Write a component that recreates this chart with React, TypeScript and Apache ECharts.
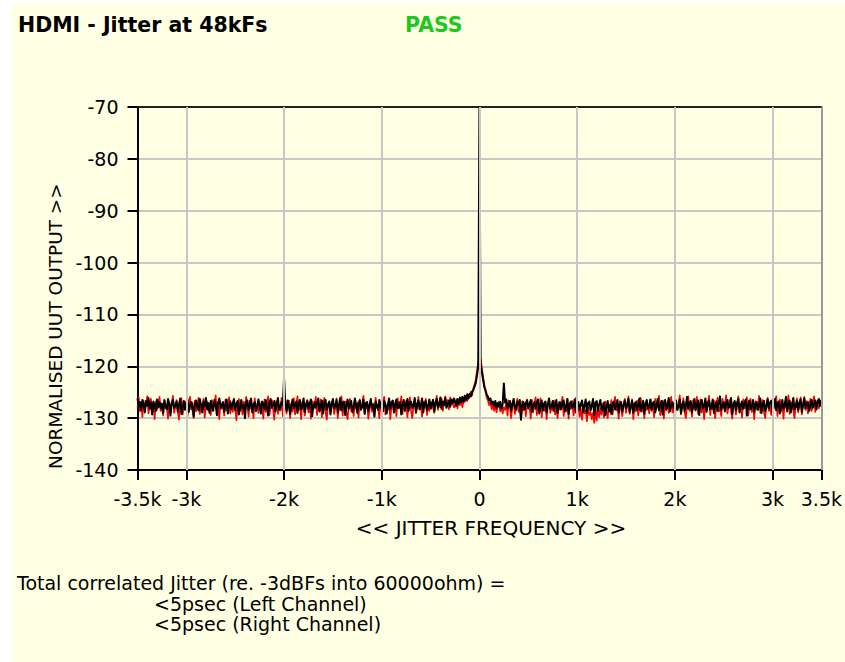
import React, { useEffect, useRef } from "react";
import * as echarts from "echarts";

// Jitter spectrum: one value every F_STEP Hz from F_START, in dB (normalised UUT output)
const F_START = -3500;
const F_STEP = 12.5;

// Left channel (drawn in black, on top) — 561 bins, -3500 Hz .. +3500 Hz
const LEFT_DB = [
  -126.2, -127.8, -126.9, -128.4, -126.5, -127.3, -128.9, -126.7, -127.6, -126.1, -128.2, -127.0, -129.3, -126.8, -127.5, -128.6, -126.4, -127.9, -126.9, -128.1,
  -127.2, -129.0, -126.6, -127.7, -128.3, -126.3, -127.4, -129.5, -127.1, -126.5, -128.0, -127.6, -126.8, -128.7, -127.3, -126.2, -129.2, -127.8, -126.7, -128.4,
  -127.0, -126.4, -128.8, -127.5, -126.9, -128.1, -129.7, -127.2, -126.6, -127.9, -128.5, -126.3, -127.4, -128.9, -126.8, -127.7, -126.1, -128.3, -127.1, -129.0,
  -126.7, -127.8, -128.6, -126.5, -127.3, -129.4, -127.0, -126.2, -128.0, -127.6, -126.9, -128.8, -127.4, -126.4, -129.1, -127.7, -126.8, -128.2, -127.1, -126.3,
  -128.5, -127.2, -126.7, -129.3, -127.9, -126.5, -128.1, -127.4, -130.0, -127.0, -126.6, -128.4, -127.5, -126.2, -128.9, -127.3, -126.9, -128.6, -127.8, -126.4,
  -127.6, -129.1, -126.8, -127.2, -128.3, -126.5, -127.9, -129.5, -127.1, -126.3, -128.0, -127.5, -126.7, -128.7, -127.3, -126.1, -128.4, -127.8, -126.9, -127.4,
  -122.2,
  -127.0, -128.6, -126.6, -127.7, -129.2, -127.3, -126.4, -128.1, -127.5, -126.8, -129.0, -127.2, -126.5, -128.3, -127.9, -126.2, -128.8, -127.4, -126.7,
  -128.2, -127.1, -126.4, -129.6, -127.6, -126.9, -128.0, -127.3, -126.2, -128.7, -127.8, -126.6, -129.1, -127.0, -126.5, -128.4, -127.5, -126.8, -129.3, -127.2,
  -126.3, -128.1, -127.7, -126.5, -128.9, -127.4, -126.1, -128.5, -127.0, -126.8, -129.4, -127.6, -126.4, -128.2, -127.3, -126.7, -128.8, -127.9, -126.2, -127.5,
  -129.0, -127.2, -126.6, -128.3, -127.8, -126.4, -129.2, -127.1, -126.9, -128.6, -127.5, -126.3, -128.0, -127.4, -129.7, -126.8, -127.6, -128.4, -126.5, -127.9,
  -127.1, -128.7, -126.7, -127.3, -129.1, -127.6, -126.2, -128.2, -127.0, -126.6, -128.9, -127.5, -126.4, -128.1, -127.8, -126.9, -129.3, -127.2, -126.5, -128.5,
  -127.4, -126.3, -128.6, -127.0, -126.8, -128.0, -127.7, -126.1, -128.8, -127.3, -126.6, -128.3, -127.5, -126.2, -128.9, -127.1, -126.7, -128.4, -127.6, -126.4,
  -128.1, -127.2, -126.5, -128.7, -127.0, -126.3, -127.9, -127.4, -126.0, -128.2, -126.8, -127.5, -126.1, -128.0, -127.3, -126.6, -127.8, -126.4, -127.1, -126.2,
  -126.9, -127.6, -126.3, -127.2, -126.0, -127.0, -125.9, -126.8, -125.7, -126.5, -125.4, -126.2, -125.3, -125.8, -124.9, -124.6, -123.9, -123.2, -121.8, -120.0,
  -70.0,
  -119.6, -121.2, -122.6, -124.0, -124.6, -125.5, -125.9, -126.6, -126.2, -127.3, -126.8, -127.6, -126.7, -128.0, -127.1, -127.8, -126.9, -128.2, -127.3, -123.3,
  -127.0, -126.4, -128.1, -127.5, -126.7, -128.6, -127.2, -126.3, -127.9, -128.4, -126.8, -127.4, -126.5, -130.2, -127.6, -126.9, -128.3, -127.1, -126.6, -128.0,
  -127.3, -126.5, -128.8, -127.6, -126.9, -128.2, -127.0, -126.4, -129.1, -127.7, -126.6, -128.5, -127.2, -126.8, -128.9, -127.4, -126.2, -128.1, -127.8, -126.7,
  -128.6, -127.3, -126.5, -129.0, -127.5, -126.9, -128.3, -127.1, -126.6, -128.7, -127.8, -126.3, -129.2, -127.4, -126.8, -128.0, -127.6, -126.4, -128.9, -127.2,
  -126.9, -128.4, -127.3, -126.6, -128.8, -127.5, -126.4, -129.0, -127.1, -126.8, -128.5, -127.6, -126.3, -129.4, -127.0, -126.7, -128.6, -127.4, -126.5, -128.2,
  -128.5, -127.0, -129.4, -127.8, -126.7, -128.6, -127.4, -129.2, -127.1, -126.8, -128.3, -127.6, -126.5, -128.9, -127.3, -126.9, -128.7, -127.5, -126.6, -128.1,
  -127.4, -126.3, -128.8, -127.7, -126.6, -129.0, -127.2, -126.9, -128.4, -127.5, -126.2, -128.6, -127.9, -126.7, -129.2, -127.3, -126.5, -128.1, -127.8, -126.4,
  -128.3, -127.1, -126.8, -128.9, -127.6, -126.3, -128.5, -127.4, -126.7, -129.3, -127.0, -126.5, -128.2, -127.7, -126.1, -128.7, -127.5, -126.9, -128.0, -127.2,
  -126.6, -128.4, -127.8, -126.4, -129.1, -127.3, -126.8, -128.6, -127.5, -125.9, -128.2, -127.1, -126.7, -128.9, -127.6, -126.3, -128.5, -127.4, -126.6, -129.4,
  -127.2, -126.5, -128.1, -127.7, -126.2, -128.8, -127.0, -126.6, -128.3, -127.9, -126.4, -129.0, -127.5, -126.8, -128.6, -127.2, -125.8, -128.4, -127.6, -126.9,
  -128.7, -127.3, -126.5, -128.0, -127.8, -126.1, -129.2, -127.4, -126.7, -128.5, -127.0, -126.3, -128.9, -127.6, -126.8, -128.2, -127.1, -126.4, -129.5, -127.5,
  -126.6, -128.3, -127.9, -126.5, -128.8, -127.2, -126.9, -128.4, -127.6, -126.2, -129.0, -127.3, -126.7, -128.6, -127.8, -126.4, -128.1, -127.0, -126.6, -128.9,
  -127.5, -126.3, -128.5, -127.1, -126.8, -129.1, -127.7, -126.5, -128.2, -127.4, -125.9, -128.7, -127.2, -126.6, -128.9, -127.6, -126.1, -128.3, -127.9, -126.7,
  -128.4, -127.0, -126.4, -128.8, -127.5, -126.2, -128.1, -127.3, -126.9, -128.6, -127.7, -126.5, -128.0, -127.2, -126.6, -128.3, -126.9, -126.3, -127.6, -126.5,
];

// Right channel (drawn in red, underneath) — same bins
const RIGHT_DB = [
  -127.9, -126.0, -128.7, -127.1, -129.8, -126.6, -128.2, -127.4, -125.8, -129.1, -127.6, -126.3, -128.9, -127.0, -130.2, -126.8, -128.4, -127.5, -125.9, -128.6,
  -127.3, -129.5, -126.4, -128.0, -127.7, -130.1, -126.9, -128.5, -127.2, -125.7, -129.0, -127.8, -126.5, -128.8, -130.3, -127.1, -126.2, -129.3, -127.6, -128.1,
  -126.7, -129.6, -127.4, -125.9, -128.3, -127.0, -130.0, -126.6, -128.7, -127.5, -126.1, -129.2, -127.9, -128.4, -126.3, -129.9, -127.2, -126.8, -128.6, -127.7,
  -129.4, -126.5, -128.0, -127.3, -125.6, -128.9, -127.8, -130.2, -126.9, -128.2, -127.1, -129.5, -126.4, -128.5, -127.6, -126.0, -129.1, -127.4, -128.8, -126.7,
  -128.1, -130.4, -127.0, -126.3, -128.6, -127.7, -129.3, -126.8, -128.4, -125.9, -127.5, -129.7, -126.6, -128.2, -127.9, -130.0, -126.2, -128.7, -127.3, -129.0,
  -126.9, -128.3, -127.6, -130.1, -126.4, -128.8, -127.2, -125.8, -129.4, -127.8, -126.5, -128.1, -130.3, -127.0, -126.7, -129.2, -127.5, -128.5, -126.1, -129.6,
  -127.8,
  -126.3, -129.1, -127.9, -126.6, -130.0, -127.4, -128.7, -126.2, -129.3, -127.6, -125.8, -128.4, -127.1, -130.2, -126.8, -128.0, -129.5, -127.3, -126.5,
  -128.9, -127.2, -130.1, -126.7, -128.3, -127.8, -125.9, -129.4, -127.0, -128.6, -126.4, -129.8, -127.5, -126.1, -128.8, -130.3, -127.3, -126.9, -129.0, -127.7,
  -126.5, -129.2, -128.0, -126.2, -130.0, -127.6, -128.4, -125.8, -129.5, -127.1, -126.8, -128.9, -130.2, -127.4, -126.3, -128.7, -127.9, -129.6, -126.6, -128.2,
  -127.0, -129.9, -126.4, -128.5, -127.3, -125.7, -129.1, -127.8, -126.9, -130.1, -128.2, -126.5, -128.8, -127.2, -129.4, -126.1, -128.0, -127.6, -130.0, -126.8,
  -128.6, -127.1, -125.9, -129.3, -127.7, -128.4, -126.3, -130.2, -127.5, -126.7, -128.9, -127.0, -129.6, -126.2, -128.1, -127.8, -125.8, -129.2, -127.4, -128.7,
  -126.6, -129.8, -127.3, -126.0, -128.5, -130.0, -127.6, -126.4, -129.1, -127.9, -125.9, -128.3, -127.2, -129.7, -126.8, -128.0, -126.3, -129.4, -127.5, -128.6,
  -126.9, -128.2, -126.4, -129.0, -127.5, -125.7, -128.4, -126.8, -127.9, -126.2, -128.6, -127.1, -125.8, -127.7, -126.5, -128.3, -126.0, -127.4, -126.7, -127.9,
  -127.8, -126.4, -128.1, -126.9, -127.5, -126.2, -127.9, -126.6, -126.9, -125.8, -126.7, -125.5, -126.0, -124.9, -125.6, -124.2, -123.5, -122.6, -120.9, -119.2,
  -118.4,
  -118.6, -120.4, -122.1, -123.6, -125.0, -126.1, -126.6, -127.5, -126.9, -128.3, -127.4, -128.6, -127.2, -128.9, -127.6, -126.8, -128.7, -127.5, -129.1, -127.9,
  -128.4, -127.0, -129.5, -126.6, -128.1, -130.0, -127.4, -126.9, -129.2, -127.7, -126.3, -128.8, -127.5, -130.4, -126.7, -128.5, -127.2, -129.6, -126.4, -128.2,
  -127.8, -130.1, -126.5, -128.9, -127.3, -126.0, -129.4, -127.6, -128.3, -126.2, -129.8, -127.1, -128.6, -126.8, -130.2, -127.5, -126.4, -129.0, -127.9, -128.5,
  -126.6, -129.3, -127.7, -130.0, -126.9, -128.4, -127.2, -125.9, -129.6, -127.5, -128.7, -126.3, -130.1, -127.0, -128.2, -126.7, -129.5, -127.8, -126.1, -128.9,
  -127.4, -129.7, -128.2, -130.3, -127.6, -129.1, -128.5, -130.6, -127.9, -129.4, -128.8, -130.2, -129.0, -130.9, -128.3, -130.5, -127.7, -129.8, -128.1, -129.3,
  -127.2, -129.9, -126.8, -128.6, -130.0, -127.4, -128.9, -126.5, -129.3, -127.8, -125.9, -128.5, -127.1, -130.1, -126.7, -128.2, -129.6, -127.5, -126.3, -129.0,
  -127.7, -125.8, -129.2, -128.0, -126.4, -130.2, -127.3, -128.7, -126.6, -129.5, -127.9, -126.1, -128.8, -127.2, -130.0, -126.9, -128.4, -127.5, -129.1, -126.5,
  -128.6, -127.0, -129.8, -126.3, -128.1, -127.6, -125.7, -129.4, -127.8, -126.6, -130.1, -127.2, -128.5, -126.8, -129.0, -127.4, -125.9, -128.9, -127.1, -130.3,
  -126.7, -128.4, -127.5, -125.6, -129.3, -127.9, -126.2, -128.8, -130.0, -127.3, -125.8, -128.6, -127.0, -129.7, -126.5, -128.2, -127.6, -125.9, -129.2, -127.8,
  -126.4, -128.9, -127.2, -130.2, -126.8, -128.5, -127.7, -125.7, -129.4, -127.1, -128.3, -126.6, -130.0, -127.5, -126.1, -128.7, -127.9, -129.6, -126.3, -128.0,
  -127.4, -125.6, -129.1, -127.8, -126.5, -128.6, -130.1, -127.0, -126.9, -129.3, -127.6, -125.8, -128.4, -127.2, -129.9, -126.4, -128.1, -127.5, -126.0, -129.5,
  -127.9, -126.3, -128.8, -127.1, -130.2, -126.7, -128.3, -127.6, -125.7, -129.0, -127.4, -126.5, -128.9, -130.0, -127.2, -126.1, -128.6, -127.8, -129.4, -126.6,
  -128.2, -127.0, -125.8, -129.6, -127.5, -126.4, -128.7, -127.3, -130.1, -126.8, -128.0, -127.7, -125.6, -129.2, -127.1, -126.9, -128.5, -130.0, -127.4, -126.2,
  -128.9, -127.6, -126.0, -129.3, -127.2, -125.9, -128.4, -126.7, -129.1, -127.5, -126.3, -128.6, -127.0, -125.8, -128.8, -127.4, -126.5, -128.1, -127.0, -126.6,
];

const X_MIN = -3500;
const X_MAX = 3500;
const X_TICKS = [-3500, -3000, -2000, -1000, 0, 1000, 2000, 3000, 3500];
const X_GRID = [-3000, -2000, -1000, 0, 1000, 2000, 3000];
const Y_MIN = -140;
const Y_MAX = -70;
const Y_STEP = 10;

const TITLE = "HDMI - Jitter at 48kFs";
const VERDICT = "PASS";
const X_NAME = "<< JITTER FREQUENCY >>";
const Y_NAME = "NORMALISED UUT OUTPUT >>";
const NOTES = [
  "Total correlated Jitter (re. -3dBFs into 60000ohm) =",
  "<5psec (Left Channel)",
  "<5psec (Right Channel)",
];

const FONT = '"DejaVu Sans", Verdana, sans-serif';
const PANEL = "#ffffe3";
const GRID_GRAY = "#c8c8c8";

const toPairs = (vals: number[]) => vals.map((v, i) => [F_START + i * F_STEP, v]);

const kLabel = (v: number) => (v === 0 ? "0" : `${v / 1000}k`);

export default function App() {
  const ref = useRef<HTMLDivElement>(null);

  useEffect(() => {
    if (!ref.current) return;
    const chart = echarts.init(ref.current, undefined, { renderer: "svg" });

    const text = (
      str: string,
      x: number,
      y: number,
      size: number,
      extra: Record<string, unknown> = {}
    ) => ({
      type: "text",
      silent: true,
      z: 10,
      style: {
        text: str,
        x,
        y,
        fill: "#000",
        fontFamily: FONT,
        fontSize: size,
        textVerticalAlign: "middle",
        ...extra,
      },
    });

    chart.setOption({
      animation: false,
      backgroundColor: "#ffffff",
      textStyle: { fontFamily: FONT },
      graphic: [
        {
          type: "rect",
          silent: true,
          z: -10,
          shape: { x: 12, y: 4, width: 845, height: 662 },
          style: { fill: PANEL },
        },
        text(TITLE, 18, 25, 20.5, { fontWeight: "bold" }),
        text(VERDICT, 405, 25, 20.5, { fontWeight: "bold", fill: "#1ec81e" }),
        text(X_NAME, 491, 528, 20, { textAlign: "center" }),
        {
          type: "text",
          silent: true,
          z: 10,
          x: 55,
          y: 326,
          rotation: Math.PI / 2,
          style: {
            text: Y_NAME,
            x: 0,
            y: 0,
            fill: "#000",
            fontFamily: FONT,
            fontSize: 18.5,
            textAlign: "center",
            textVerticalAlign: "middle",
          },
        },
        text(NOTES[0], 17, 583, 19),
        text(NOTES[1], 154, 603.5, 19),
        text(NOTES[2], 154, 624, 19),
      ],
      grid: {
        left: 137.5,
        right: 22.5,
        top: 107,
        bottom: 192,
        show: true,
        backgroundColor: PANEL,
        borderWidth: 0,
      },
      xAxis: [
        {
          type: "value",
          min: X_MIN,
          max: X_MAX,
          position: "bottom",
          axisLine: { show: true, onZero: false, lineStyle: { color: "#000", width: 2 } },
          axisTick: {
            show: true,
            customValues: X_TICKS,
            length: 10,
            lineStyle: { color: "#000", width: 2 },
          },
          axisLabel: {
            show: true,
            customValues: X_TICKS,
            formatter: kLabel,
            margin: 19,
            fontSize: 19,
            color: "#000",
            fontFamily: FONT,
          },
          splitLine: { show: false },
        },
        {
          type: "value",
          min: X_MIN,
          max: X_MAX,
          position: "top",
          axisLine: { show: true, onZero: false, lineStyle: { color: "#222", width: 2 } },
          axisTick: { show: false },
          axisLabel: { show: false },
          splitLine: { show: false },
        },
      ],
      yAxis: {
        type: "value",
        min: Y_MIN,
        max: Y_MAX,
        interval: Y_STEP,
        axisLine: { show: true, onZero: false, lineStyle: { color: "#000", width: 2 } },
        axisTick: { show: true, length: 10, lineStyle: { color: "#000", width: 2 } },
        axisLabel: { margin: 19, fontSize: 19, color: "#000", fontFamily: FONT },
        splitLine: { show: true, lineStyle: { color: GRID_GRAY, width: 2 } },
      },
      series: [
        {
          type: "line",
          data: [],
          z: 1,
          silent: true,
          markLine: {
            silent: true,
            symbol: "none",
            label: { show: false },
            lineStyle: { type: "solid", color: GRID_GRAY, width: 2 },
            data: [
              ...X_GRID.map((x) => ({ xAxis: x })),
              { xAxis: X_MAX, lineStyle: { type: "solid", color: "#9a9a9a", width: 2 } },
            ],
          },
        },
        {
          name: "Right",
          type: "line",
          data: toPairs(RIGHT_DB),
          symbol: "none",
          z: 2,
          lineStyle: { color: "#ff0000", width: 1.7, join: "round" },
        },
        {
          name: "Left",
          type: "line",
          data: toPairs(LEFT_DB),
          symbol: "none",
          z: 3,
          lineStyle: { color: "#000000", width: 2, join: "round" },
        },
      ],
    });

    return () => chart.dispose();
  }, []);

  return (
    <div
      ref={ref}
      style={{ position: "absolute", left: 0, top: 0, width: 845, height: 662 }}
    />
  );
}
